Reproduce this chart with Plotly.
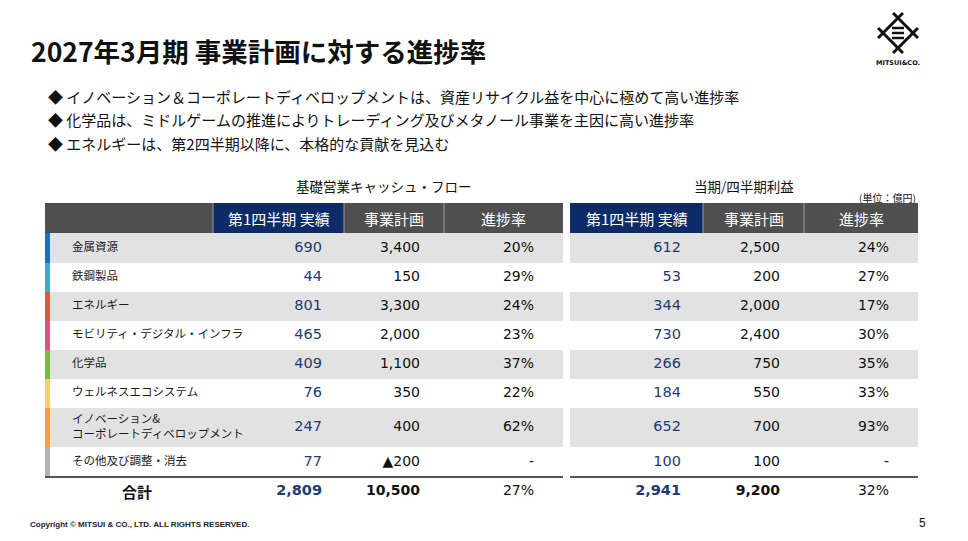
import plotly.graph_objects as go

# --- data ---
segments = ["金属資源", "鉄鋼製品", "エネルギー", "モビリティ・デジタル・インフラ", "化学品",
            "ウェルネスエコシステム", "イノベーション&<br>コーポレートディベロップメント",
            "その他及び調整・消去"]
segment_colors = ["#1b6fc2", "#23b6cf", "#e8533f", "#e4507f", "#7cb646",
                  "#f8d84a", "#f3a23d", "#b3b3b3"]

cf_q1 = [690, 44, 801, 465, 409, 76, 247, 77]
cf_plan = [3400, 150, 3300, 2000, 1100, 350, 400, -200]
cf_rate = [20, 29, 24, 23, 37, 22, 62, None]
cf_total = [2809, 10500, 27]

pl_q1 = [612, 53, 344, 730, 266, 184, 652, 100]
pl_plan = [2500, 200, 2000, 2400, 750, 550, 700, 100]
pl_rate = [24, 27, 17, 30, 35, 33, 93, None]
pl_total = [2941, 9200, 32]

col_headers = ["第1四半期 実績", "事業計画", "進捗率"]
bullets = ["イノベーション＆コーポレートディベロップメントは、資産リサイクル益を中心に極めて高い進捗率",
           "化学品は、ミドルゲームの推進によりトレーディング及びメタノール事業を主因に高い進捗率",
           "エネルギーは、第2四半期以降に、本格的な貢献を見込む"]

# --- layout constants (screen pixels; page has an 8px body margin) ---
W, H = 968, 541
OFF = 8
JP = "Noto Sans CJK JP"
NUM = "DejaVu Sans, Noto Sans CJK JP"
NAVY = "#0d2b67"
VAL_NAVY = "#1d3b73"
HEAD_GRAY = "#4f4f4f"
ROW_GRAY = "#e2e2e2"

head_y = (203, 233)
row_h = [30, 29, 29, 29, 29, 29, 39, 30]
total_y = 491
left_cols = [(213, 344), (344, 444), (444, 563)]
right_cols = [(570, 703), (703, 804), (804, 918)]
left_x0, strip_w = 45, 5
text_pad = [22, 24, 29]


def fmt(v):
    if v is None:
        return "-"
    return ("▲" if v < 0 else "") + f"{abs(v):,}"


def pct(v):
    return "-" if v is None else f"{v}%"


row_edges = [head_y[1]]
for h in row_h:
    row_edges.append(row_edges[-1] + h)
row_mid = [(row_edges[i] + row_edges[i + 1]) / 2 for i in range(len(row_h))]

shapes = []
annotations = []
fig = go.Figure()

# right edge strip
shapes.append(dict(type="rect", x0=963, x1=W, y0=OFF, y1=H, fillcolor="#e4e4e4", line_width=0))

# header cells
for cols, x_start in [(left_cols, left_x0), (right_cols, None)]:
    if x_start is not None:
        shapes.append(dict(type="rect", x0=x_start, x1=cols[0][0], y0=head_y[0], y1=head_y[1],
                           fillcolor=HEAD_GRAY, line_width=0, layer="below"))
    for i, (a, b) in enumerate(cols):
        shapes.append(dict(type="rect", x0=a, x1=b, y0=head_y[0], y1=head_y[1],
                           fillcolor=NAVY if i == 0 else HEAD_GRAY, line_width=0, layer="below"))
        if i > 0 or x_start is not None:
            shapes.append(dict(type="line", x0=a, x1=a, y0=head_y[0], y1=head_y[1],
                               line=dict(color="#9a9a9a", width=1)))
        annotations.append(dict(x=(a + b) / 2, y=(head_y[0] + head_y[1]) / 2, text=col_headers[i],
                                showarrow=False, font=dict(family=JP, size=15, color="white")))

# row backgrounds and colour strips
for r in range(len(row_h)):
    y0, y1 = row_edges[r], row_edges[r + 1]
    if r % 2 == 0:
        shapes.append(dict(type="rect", x0=left_x0, x1=left_cols[-1][1], y0=y0, y1=y1,
                           fillcolor=ROW_GRAY, line_width=0, layer="below"))
        shapes.append(dict(type="rect", x0=right_cols[0][0], x1=right_cols[-1][1], y0=y0, y1=y1,
                           fillcolor=ROW_GRAY, line_width=0, layer="below"))
    shapes.append(dict(type="rect", x0=left_x0, x1=left_x0 + strip_w, y0=y0, y1=y1,
                       fillcolor=segment_colors[r], line_width=0))

# rule above totals
for x0, x1 in [(left_x0, left_cols[-1][1]), (right_cols[0][0], right_cols[-1][1])]:
    shapes.append(dict(type="line", x0=x0, x1=x1, y0=row_edges[-1], y1=row_edges[-1],
                       line=dict(color="#555555", width=2)))

# segment labels
fig.add_trace(go.Scatter(x=[72] * len(segments), y=row_mid, text=segments, mode="text",
                         textposition="middle right",
                         textfont=dict(family=JP, size=11.5, color="#1a1a1a")))

# values
for cols, q1, plan, rate, tot in [(left_cols, cf_q1, cf_plan, cf_rate, cf_total),
                                   (right_cols, pl_q1, pl_plan, pl_rate, pl_total)]:
    series = [[fmt(v) for v in q1], [fmt(v) for v in plan], [pct(v) for v in rate]]
    totals = [f"<b>{tot[0]:,}</b>", f"<b>{tot[1]:,}</b>", f"{tot[2]}%"]
    colors = [VAL_NAVY, "#111111", "#111111"]
    sizes = [14.5, 14, 14]
    for i, (a, b) in enumerate(cols):
        fig.add_trace(go.Scatter(x=[b - text_pad[i]] * (len(row_mid) + 1), y=row_mid + [total_y],
                                 text=series[i] + [totals[i]], mode="text",
                                 textposition="middle left",
                                 textfont=dict(family=NUM, size=sizes[i], color=colors[i])))

annotations.append(dict(x=137, y=total_y, text="<b>合計</b>", showarrow=False,
                        font=dict(family=JP, size=15, color="#111111")))

# titles and text
annotations.append(dict(x=29, y=50, text="<b>2027年3月期 事業計画に対する進捗率</b>", showarrow=False,
                        xanchor="left", font=dict(family=JP, size=26.5, color="#111111")))
for i, t in enumerate(bullets):
    annotations.append(dict(x=46, y=96 + i * 23.5, text="◆ " + t, showarrow=False, xanchor="left",
                            font=dict(family=JP, size=15, color="#111111")))
annotations.append(dict(x=384, y=186, text="基礎営業キャッシュ・フロー", showarrow=False,
                        font=dict(family=JP, size=13.5, color="#111111")))
annotations.append(dict(x=744, y=186, text="当期/四半期利益", showarrow=False,
                        font=dict(family=JP, size=13.5, color="#111111")))
annotations.append(dict(x=918, y=197, text="(単位：億円)", showarrow=False, xanchor="right",
                        font=dict(family=JP, size=10, color="#111111")))
annotations.append(dict(x=28, y=524, text="<b>Copyright © MITSUI & CO., LTD. ALL RIGHTS RESERVED.</b>",
                        showarrow=False, xanchor="left",
                        font=dict(family="Liberation Sans", size=8, color="#222222")))
annotations.append(dict(x=922, y=523, text="5", showarrow=False,
                        font=dict(family="Liberation Sans", size=12, color="#111111")))

# logo: igeta diamond with crossing arms and 三 inside
cx, cy, rx, ry, ext = 898, 33, 15, 15, 7
corners = [(cx, cy - ry), (cx + rx, cy), (cx, cy + ry), (cx - rx, cy)]
for k in range(4):
    (ax, ay), (bx, by) = corners[k], corners[(k + 1) % 4]
    dx, dy = bx - ax, by - ay
    n = (dx ** 2 + dy ** 2) ** 0.5
    shapes.append(dict(type="line", x0=ax - dx / n * ext, y0=ay - dy / n * ext,
                       x1=bx + dx / n * ext, y1=by + dy / n * ext,
                       line=dict(color="#111111", width=3)))
for dy in [-5, 0, 5]:
    shapes.append(dict(type="line", x0=cx - 6, x1=cx + 6, y0=cy + dy, y1=cy + dy,
                       line=dict(color="#111111", width=2.5)))
annotations.append(dict(x=cx, y=63, text="<b>MITSUI&CO.</b>", showarrow=False,
                        font=dict(family="DejaVu Sans", size=6.5, color="#111111")))

# the figure sits 8px in from the page corner, so the axes are offset to keep screen coordinates
fig.update_layout(
    width=W - OFF, height=H - OFF, margin=dict(l=0, r=0, t=0, b=0),
    paper_bgcolor="white", plot_bgcolor="white", showlegend=False,
    xaxis=dict(range=[OFF, W], visible=False, fixedrange=True),
    yaxis=dict(range=[H, OFF], visible=False, fixedrange=True),
    shapes=shapes, annotations=annotations,
)

fig.write_html("out.html")
